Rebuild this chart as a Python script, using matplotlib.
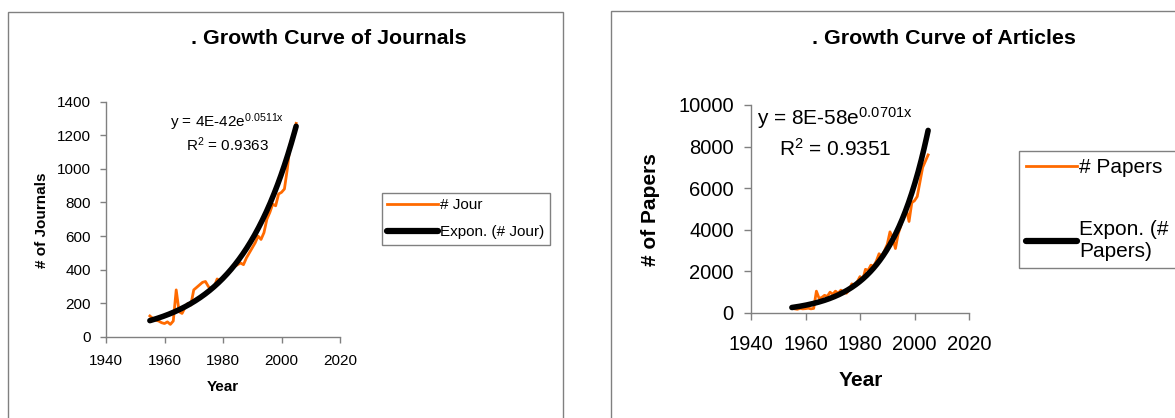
import numpy as np
import matplotlib
matplotlib.use("Agg")
import matplotlib.pyplot as plt
from matplotlib.patches import Rectangle

# ---------------- data ----------------
years = list(range(1955, 2006))
journals = [125, 110, 100, 95, 85, 80, 90, 75, 95, 280,
            150, 140, 175, 200, 190, 280, 295, 310, 325, 330,
            300, 285, 300, 345, 330, 350, 370, 390, 400, 420,
            430, 440, 430, 470, 500, 530, 560, 600, 580, 620,
            700, 740, 790, 780, 850, 860, 880, 1000, 1150, 1200,
            1270]
papers = [250, 200, 180, 220, 200, 210, 230, 200, 220, 1050,
          700, 750, 850, 800, 1000, 900, 1050, 950, 1100, 1000,
          950, 1100, 1400, 1300, 1500, 1750, 1600, 2100, 2050, 2300,
          2250, 2500, 2850, 2700, 3000, 3300, 3900, 3600, 3100, 3800,
          4200, 4700, 5000, 4400, 5300, 5400, 5600, 6300, 7000, 7300,
          7600]
# exponential trendline coefficients as printed on the chart (y = a*e^(b*x))
journal_fit_a, journal_fit_b = 4e-42, 0.0511
paper_fit_a, paper_fit_b = 8e-58, 0.0701

x_ticks = [1940, 1960, 1980, 2000, 2020]
journal_yticks = list(range(0, 1401, 200))
paper_yticks = list(range(0, 10001, 2000))

title_left = ". Growth Curve of Journals"
title_right = ". Growth Curve of Articles"
eq_left = r"y = 4E-42e$^{\mathrm{0.0511x}}$"
r2_left = r"R$^{\mathrm{2}}$ = 0.9363"
eq_right = r"y = 8E-58e$^{\mathrm{0.0701x}}$"
r2_right = r"R$^{\mathrm{2}}$ = 0.9351"

# ---------------- style ----------------
plt.rcParams['font.family'] = ['Liberation Sans', 'DejaVu Sans']
plt.rcParams['mathtext.fontset'] = 'custom'
plt.rcParams['mathtext.rm'] = 'Liberation Sans'
plt.rcParams['mathtext.it'] = 'Liberation Sans:italic'
plt.rcParams['mathtext.bf'] = 'Liberation Sans:bold'

ORANGE = '#ff6a00'
GRAY = '#808080'
W, H = 1175, 418
fig = plt.figure(figsize=(W / 100, H / 100), dpi=100)


def fx(px):
    return px / W


def fy(py):
    return 1 - py / H


# panel borders
fig.add_artist(Rectangle((fx(7.5), fy(430)), fx(563) - fx(7.5), fy(12) - fy(430),
                         transform=fig.transFigure, fill=False, ec=GRAY, lw=1.0))
fig.add_artist(Rectangle((fx(611), fy(430)), fx(1200) - fx(611), fy(11) - fy(430),
                         transform=fig.transFigure, fill=False, ec=GRAY, lw=1.0))


def style_axes(ax, yticks, ylim, fs, pad_x, pad_y, tlen):
    for s in ['top', 'right']:
        ax.spines[s].set_visible(False)
    for s in ['left', 'bottom']:
        ax.spines[s].set_color(GRAY)
        ax.spines[s].set_linewidth(1.0)
    ax.set_xlim(1940, 2020)
    ax.set_ylim(*ylim)
    ax.set_xticks(x_ticks)
    ax.set_yticks(yticks)
    ax.tick_params(axis='both', direction='out', length=tlen, width=1.0,
                   color=GRAY, labelsize=fs, labelcolor='black')
    ax.tick_params(axis='x', pad=pad_x)
    ax.tick_params(axis='y', pad=pad_y)
    ax.patch.set_alpha(0)


xs = np.linspace(years[0], years[-1], 300)

# ---------------- left chart ----------------
ax1 = fig.add_axes([fx(106), fy(337), fx(340) - fx(106), fy(101.5) - fy(337)])
style_axes(ax1, journal_yticks, (0, 1400), 11, 8.0, 6.8, 4)
l1, = ax1.plot(years, journals, color=ORANGE, lw=2.0, solid_joinstyle='round')
t1, = ax1.plot(xs, journal_fit_a * np.exp(journal_fit_b * xs), color='black', lw=4.0,
               solid_capstyle='round')

fig.text(fx(203) - 0.0100, fy(39), title_left, fontsize=15.4, fontweight='bold',
         ha='left', va='center')
fig.text(fx(223), fy(387), "Year", fontsize=11, fontweight='bold', ha='center', va='center')
fig.text(fx(42.5), fy(220), "# of Journals", fontsize=11, fontweight='bold',
         ha='center', va='center', rotation=90)
fig.text(fx(227), fy(122), eq_left, fontsize=11, ha='center', va='center')
fig.text(fx(227), fy(145), r2_left, fontsize=11, ha='center', va='center')

leg1 = fig.legend([l1, t1], ["# Jour", "Expon. (# Jour)"], loc='upper left',
                  bbox_to_anchor=(fx(381.5), fy(192.5)), bbox_transform=fig.transFigure,
                  fontsize=11, frameon=True, fancybox=False, framealpha=1,
                  edgecolor=GRAY, handlelength=3.3, handletextpad=0.15,
                  labelspacing=0.85, borderpad=0.38, borderaxespad=0)
leg1.get_frame().set_linewidth(1.0)
leg1.get_lines()[0].set_linewidth(2.0)
leg1.get_lines()[1].set_linewidth(4.5)

# ---------------- right chart ----------------
ax2 = fig.add_axes([fx(751), fy(313), fx(969) - fx(751), fy(105) - fy(313)])
style_axes(ax2, paper_yticks, (0, 10000), 14.5, 11.0, 7.5, 5)
l2, = ax2.plot(years, papers, color=ORANGE, lw=2.0, solid_joinstyle='round')
t2, = ax2.plot(xs, paper_fit_a * np.exp(paper_fit_b * xs), color='black', lw=4.0,
               solid_capstyle='round')

fig.text(fx(824) - 0.0105, fy(39), title_right, fontsize=15.4, fontweight='bold',
         ha='left', va='center')
fig.text(fx(861), fy(381), "Year", fontsize=15, fontweight='bold', ha='center', va='center')
fig.text(fx(651), fy(210), "# of Papers", fontsize=15, fontweight='bold',
         ha='center', va='center', rotation=90)
fig.text(fx(835), fy(118), eq_right, fontsize=15, ha='center', va='center')
fig.text(fx(835), fy(149), r2_right, fontsize=15, ha='center', va='center')

leg2 = fig.legend([l2, t2], ["# Papers", "Expon. (#\nPapers)"], loc='upper left',
                  bbox_to_anchor=(fx(1019), fy(151)), bbox_transform=fig.transFigure,
                  fontsize=15, frameon=True, fancybox=False, framealpha=1,
                  edgecolor=GRAY, handlelength=2.45, handletextpad=0.1,
                  labelspacing=2.05, borderpad=0.35, borderaxespad=0)
leg2.get_frame().set_linewidth(1.0)
leg2.get_lines()[0].set_linewidth(2.0)
leg2.get_lines()[1].set_linewidth(4.5)

fig.savefig("out.png", dpi=100)
